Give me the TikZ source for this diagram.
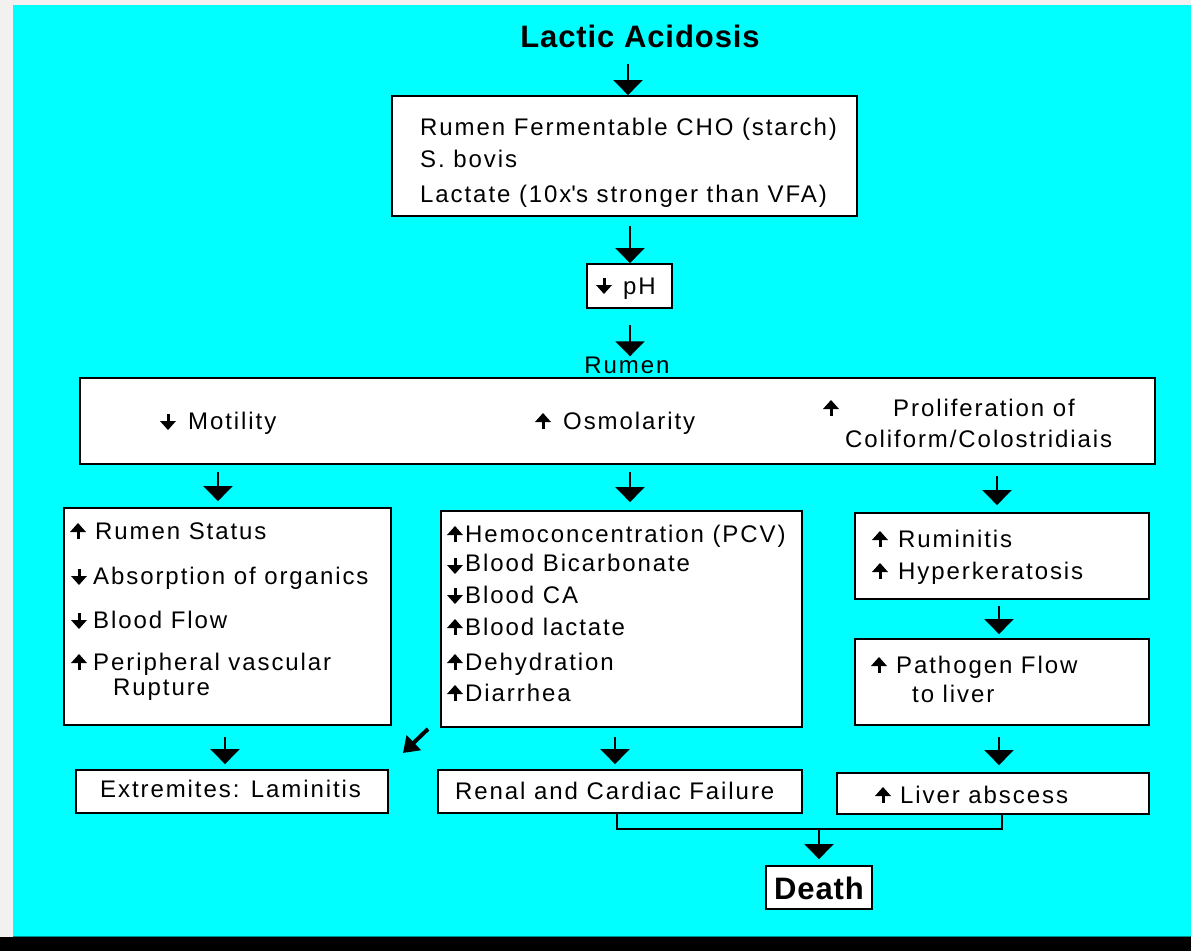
\documentclass[tikz,border=0pt]{standalone}
\usepackage{fontspec}
\setmainfont{Liberation Sans}[LetterSpace=8]
\newfontfamily\tfont{Liberation Sans}[LetterSpace=3]
\usetikzlibrary{arrows.meta}
\definecolor{bgcyan}{HTML}{00FFFF}
\definecolor{bggray}{HTML}{F2F1EF}
\definecolor{edgeteal}{HTML}{008B8B}
\begin{document}
\begin{tikzpicture}[x=1pt,y=-1pt,
  box/.style={draw=black, line width=1.8pt, fill=white, inner sep=0pt},
  txt/.style={font=\fontsize{24}{28}\selectfont, inner sep=0pt, anchor=base west},
  ctxt/.style={font=\fontsize{24}{28}\selectfont, inner sep=0pt, anchor=base},
  ttl/.style={font=\tfont\bfseries\fontsize{31}{36}\selectfont, inner sep=0pt, anchor=base},
  conn/.style={line width=2pt, -{Triangle[width=29pt,length=15pt]}},
  link/.style={line width=2pt},
  upm/.pic={\fill (-8,-7) -- (8,-7) -- (0,-16) -- cycle;
            \fill (-1.5,-8) rectangle (1.5,0);},
  dnm/.pic={\fill (-1.5,-16) rectangle (1.5,-8);
            \fill (-8,-9) -- (8,-9) -- (0,0) -- cycle;}]
\useasboundingbox (0,0) rectangle (1191,951);
% background
\fill[bggray] (0,0) rectangle (1191,951);
\fill[bgcyan] (13,5) rectangle (1191,937);
\fill[edgeteal] (13,935.5) rectangle (1191,937);
\fill[black] (0,937) rectangle (1191,951);

% title
\node[ttl] (title) at (640,47) {Lactic Acidosis};

% box 1
\node[box, minimum width=465pt, minimum height=120pt] (box1) at (624.5,156) {};
\node[txt] (b1a) at (420,135) {Rumen Fermentable CHO (starch)};
\node[txt] (b1b) at (420,167) {S. bovis};
\node[txt] (b1c) at (420,202) {Lactate (10x\textquotesingle s stronger than VFA)};

% pH
\node[box, minimum width=85pt, minimum height=44pt] (ph) at (629.5,286) {};
\pic at (604,294) {dnm};
\node[txt] (pht) at (623,294) {pH};

% Rumen label and box
\node[ctxt] (rlabel) at (627,373) {Rumen};
\node[box, minimum width=1075pt, minimum height=86pt] (rumen) at (617.5,421) {};
\pic at (168,430) {dnm};
\node[txt] (mot) at (188,429) {Motility};
\pic at (543,429) {upm};
\node[txt] (osm) at (563,429) {Osmolarity};
\pic at (831,416) {upm};
\node[txt] (pro1) at (893,416) {Proliferation of};
\node[txt] (pro2) at (845,447) {Coliform/Colostridiais};

% left box
\node[box, minimum width=327pt, minimum height=217pt] (boxL) at (227.5,616.5) {};
\pic at (78,539) {upm};
\node[txt] (l1) at (95,539) {Rumen Status};
\pic at (79,585) {dnm};
\node[txt] (l2) at (93,584) {Absorption of organics};
\pic at (79,629) {dnm};
\node[txt] (l3) at (93,628) {Blood Flow};
\pic at (79,670) {upm};
\node[txt] (l4) at (93,670) {Peripheral vascular};
\node[txt] (l5) at (113,695) {Rupture};

% middle box
\node[box, minimum width=361pt, minimum height=216pt] (boxM) at (621.5,619) {};
\pic at (455,542) {upm};
\node[txt] (m1) at (465,542) {Hemoconcentration (PCV)};
\pic at (455,574) {dnm};
\node[txt] (m2) at (465,571) {Blood Bicarbonate};
\pic at (455,604) {dnm};
\node[txt] (m3) at (465,603) {Blood CA};
\pic at (455,635) {upm};
\node[txt] (m4) at (465,635) {Blood lactate};
\pic at (455,670) {upm};
\node[txt] (m5) at (465,670) {Dehydration};
\pic at (455,701) {upm};
\node[txt] (m6) at (465,701) {Diarrhea};

% right boxes
\node[box, minimum width=294pt, minimum height=86pt] (boxR1) at (1002,556) {};
\pic at (880,547) {upm};
\node[txt] (r1) at (898,547) {Ruminitis};
\pic at (880,579) {upm};
\node[txt] (r2) at (898,579) {Hyperkeratosis};

\node[box, minimum width=294pt, minimum height=86pt] (boxR2) at (1002,682) {};
\pic at (879,673) {upm};
\node[txt] (r3) at (896,673) {Pathogen Flow};
\node[txt] (r4) at (912,702) {to liver};

% bottom row
\node[box, minimum width=312pt, minimum height=43pt] (ext) at (232,791.5) {};
\node[txt] (extt) at (100,797) {Extremites: Laminitis};
\node[box, minimum width=364pt, minimum height=43pt] (renal) at (620,791.5) {};
\node[txt] (renalt) at (455,799) {Renal and Cardiac Failure};
\node[box, minimum width=312pt, minimum height=41pt] (liver) at (993,793.5) {};
\pic at (883,803) {upm};
\node[txt] (livert) at (900,803) {Liver abscess};

% death
\node[box, minimum width=106pt, minimum height=43pt] (death) at (819,887.5) {};
\node[ttl] (deatht) at (819,899) {Death};

% connectors
\coordinate (a1) at (628,64);
\draw[conn] (a1) -- (a1 |- box1.north);
\coordinate (a2) at (630,226);
\draw[conn] (a2) -- (a2 |- ph.north);
\coordinate (a3) at (630,325);
\draw[conn] (a3) -- (a3 |- rlabel.north);
\coordinate (a4) at (218,472);
\draw[conn, shorten >=6pt] (a4) -- (a4 |- boxL.north);
\coordinate (a5) at (630,472);
\draw[conn, shorten >=8pt] (a5) -- (a5 |- boxM.north);
\coordinate (a6) at (997,476);
\draw[conn, shorten >=7pt] (a6) -- (a6 |- boxR1.north);
\coordinate (a7) at (225,737);
\draw[conn, shorten >=5pt] (a7) -- (a7 |- ext.north);
\coordinate (a8) at (615,737);
\draw[conn, shorten >=5pt] (a8) -- (a8 |- renal.north);
\coordinate (a9) at (999,606);
\draw[conn, shorten >=4pt] (a9) -- (a9 |- boxR2.north);
\coordinate (a10) at (999,737);
\draw[conn, shorten >=7pt] (a10) -- (a10 |- liver.north);

% merge to death
\coordinate (mj) at (819,829);
\coordinate (mL) at (617,829);
\coordinate (mR) at (1002,829);
\draw[link] (mL |- renal.south) -- (mL) -- (mR) -- (mR |- liver.south);
\draw[conn, shorten >=6pt] (mj) -- (death.north);

% diagonal arrow
\coordinate (d1) at (428,729);
\coordinate (d2) at (403,753);
\draw[line width=4pt, -{Triangle[width=20pt,length=15pt]}] (d1) -- (d2);
\end{tikzpicture}
\end{document}
